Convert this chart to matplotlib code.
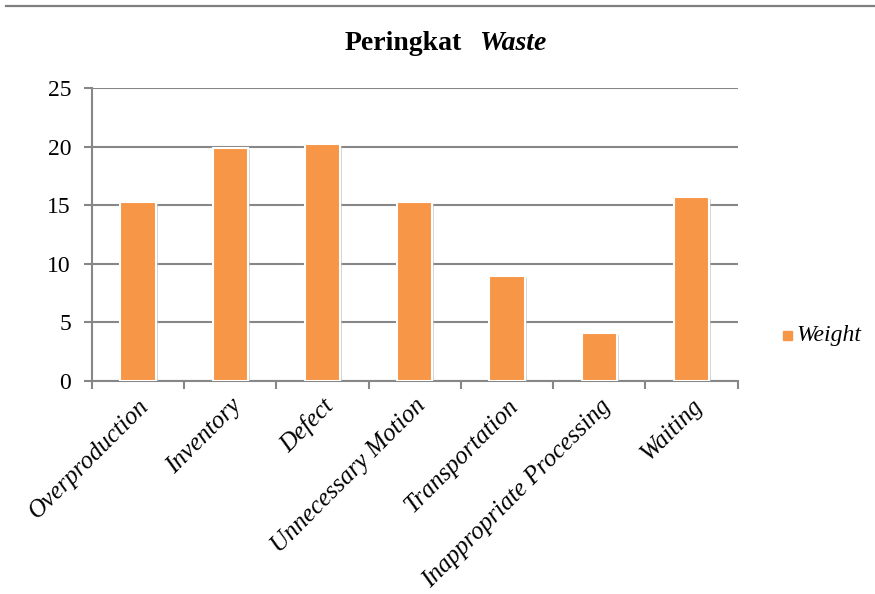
import matplotlib.pyplot as plt
import matplotlib.patheffects as pe
from matplotlib.lines import Line2D
from matplotlib.patches import Rectangle

categories = ["Overproduction", "Inventory", "Defect", "Unnecessary Motion",
              "Transportation", "Inappropriate Processing", "Waiting"]
weights = [15.3, 19.9, 20.2, 15.3, 9.0, 4.1, 15.7]
yticks = [0, 5, 10, 15, 20, 25]

ORANGE = "#F79646"
GRID = "#878787"

plt.rcParams["font.family"] = ["Liberation Serif", "DejaVu Serif"]

fig = plt.figure(figsize=(8.75, 5.94), dpi=100)
ax = fig.add_axes([0.105, 0.3586, 0.738, 0.4933])

# thin rule across the top of the page
fig.add_artist(Line2D([0.007, 1.0], [0.99, 0.99], color="#7f7f7f", lw=1.6,
                      transform=fig.transFigure))

x = range(len(categories))
bars = ax.bar(x, weights, width=0.38, color=ORANGE, edgecolor="white",
              linewidth=1.5, zorder=3)
for b in bars:
    b.set_path_effects([pe.SimplePatchShadow(offset=(1.5, -1.5), shadow_rgbFace="#bbbbbb",
                                             alpha=0.6), pe.Normal()])

ax.set_xlim(-0.5, len(categories) - 0.5)
ax.set_ylim(0, 25)
ax.set_yticks(yticks)
ax.set_yticklabels([str(v) for v in yticks], fontsize=17)
ax.yaxis.grid(True, color=GRID, lw=1.5, zorder=0)
ax.set_axisbelow(True)

# category ticks at boundaries, labels centred on bars
ax.set_xticks([i - 0.5 for i in range(len(categories) + 1)])
ax.set_xticklabels([])
ax.set_xticks(list(x), minor=True)
ax.set_xticklabels(categories, minor=True, rotation=45, ha="right",
                   rotation_mode="anchor", fontsize=18, style="italic")
ax.tick_params(axis="x", which="major", length=6, width=1.5, color=GRID, direction="out")
ax.tick_params(axis="x", which="minor", length=0, pad=10)
ax.tick_params(axis="y", length=6, width=1.5, color=GRID, pad=9)

for side in ["top", "right"]:
    ax.spines[side].set_visible(False)
for side in ["left", "bottom"]:
    ax.spines[side].set_color(GRID)
    ax.spines[side].set_linewidth(1.5)

fig.text(0.528, 0.927, "Peringkat", ha="right", va="center", fontsize=20,
         fontweight="bold")
fig.text(0.547, 0.927, "Waste", ha="left", va="center", fontsize=20,
         fontweight="bold", style="italic")

# legend: small square + italic label
fig.add_artist(Rectangle((783 / 875, 1 - 340 / 594), 9 / 875, 9 / 594,
                         transform=fig.transFigure, color=ORANGE))
fig.text(796 / 875, 1 - 335 / 594, "Weight", ha="left", va="center",
         fontsize=17, style="italic")

fig.savefig("out.png", dpi=100)
